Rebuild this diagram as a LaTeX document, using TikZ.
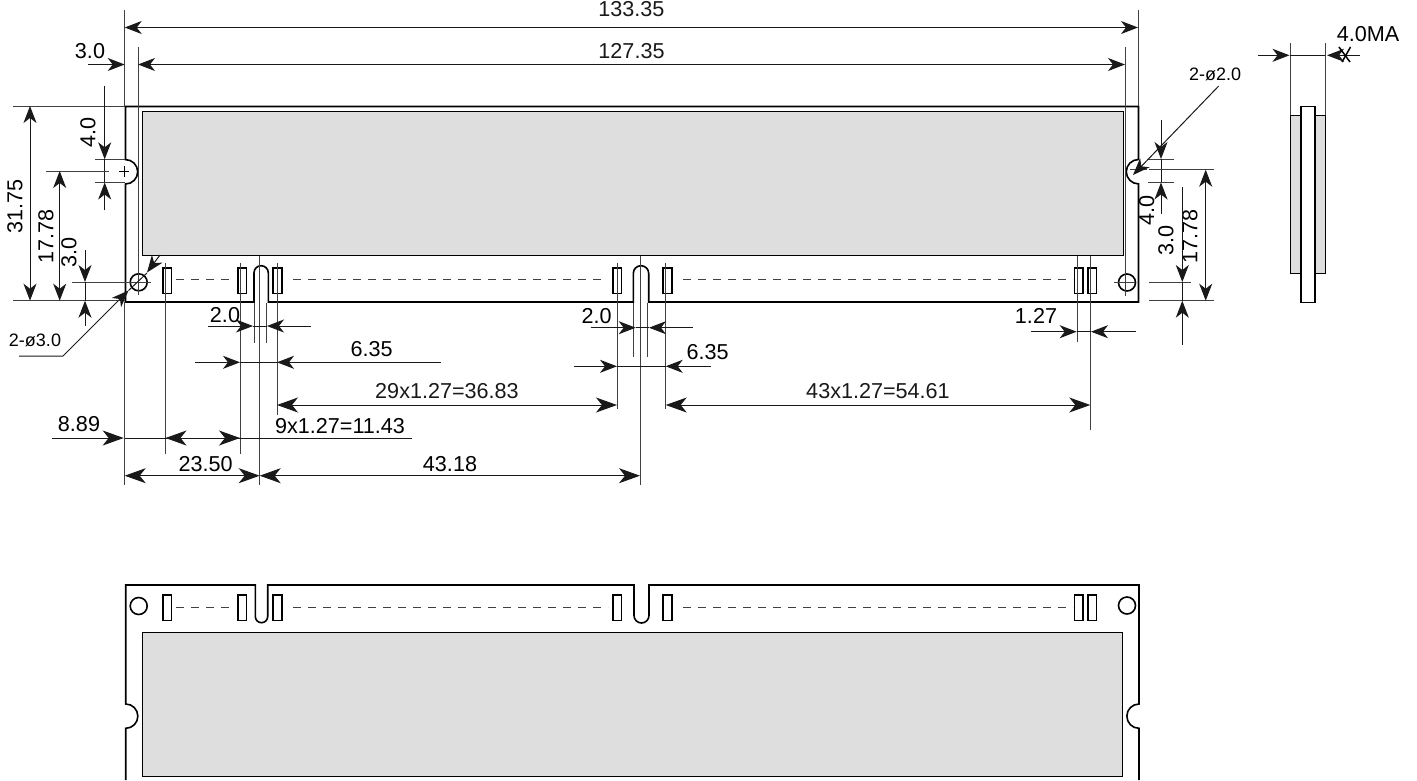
\documentclass[tikz,border=0pt]{standalone}
\usepackage{fontspec}
\setmainfont{Liberation Sans}
\usetikzlibrary{arrows.meta}
\tikzset{
  outline/.style={line width=1.6pt},
  padbox/.style={line width=1.6pt,fill=white},
  shade/.style={line width=1pt,fill=black!13},
  extline/.style={line width=1pt,black!75},
  dashrow/.style={dashed,dash pattern=on 8pt off 7pt,line width=1pt,black!75},
  dimline/.style={line width=1pt,black!90,>={Stealth[length=17pt,width=13pt,inset=5pt]}},
  bigdim/.style={line width=1pt,black!90,>={Stealth[length=21pt,width=15pt,inset=6pt]}},
  dimtext/.style={inner sep=0pt,font=\fontsize{21.6}{21.6}\selectfont},
  smalltext/.style={inner sep=0pt,font=\fontsize{18}{18}\selectfont},
}
\begin{document}
\begin{tikzpicture}[x=1pt,y=-1pt]
        \useasboundingbox(0,0)rectangle(1417,780);
        \draw[shade](142,111)rectangle(1123,255);
        \draw[outline](125.5,106.5)--(1138.5,106.5)--(1138.5,159.5)arc[start angle=90,end angle=270,radius=12.2pt]--(1138.5,302)--(648.7,302)--(648.7,273.4)arc[start angle=0,end angle=180,radius=7.7pt]--(633.3,302)--(268.3,302)--(268.3,272.85)arc[start angle=0,end angle=180,radius=7.15pt]--(254,302)--(125.5,302)--(125.5,184)arc[start angle=-90,end angle=90,radius=12.2pt]--cycle;
        \draw[outline](138.7,282.3)circle[radius=8.5pt];
        \draw[outline](1127,282.5)circle[radius=8.5pt];
        \foreach \padx in {162.7,237.7,273,612.7,663,1074.3,1087.7}{
          \draw[padbox](\padx,267.7)rectangle++(8.8,25.6);
          \draw[padbox](\padx,595)rectangle++(8.8,25.6);
        }
        \draw[dashrow](176,279.5)--(232,279.5);
        \draw[dashrow](293,279.5)--(606,279.5);
        \draw[dashrow](683,279.5)--(1073,279.5);
        \draw[shade](1290.3,115.3)rectangle(1325.7,273.3);
        \draw[outline,fill=white](1301,106.5)rectangle(1315,302.3);
        \draw[extline](124.7,10)--(124.7,106);
        \draw[extline](1138,10)--(1138,106);
        \draw[extline](138,47)--(138,295);
        \draw[extline](1125,47)--(1125,295.6);
        \draw[dimline,<->](124.7,27.5)--(1138,27.5)node[midway,above=10pt,dimtext](w1){133.35};
        \draw[dimline,<->](138,64.5)--(1125,64.5)node[midway,above=5pt,dimtext](w2){127.35};
        \draw[dimline,->](88,64.5)--(124.7,64.5);
        \node[dimtext](w3)at(90,51){3.0};
        \draw[extline](13,106)--(125,106);
        \draw[extline](13,300.7)--(125,300.7);
        \draw[dimline,<->](30,106)--(30,300.7);
        \node[dimtext,rotate=90](h1)at(15,206.7){31.75};
        \draw[extline](95,159.3)--(125,159.3);
        \draw[extline](95,182)--(125,182);
        \draw[dimline,->](104.7,86)--(104.7,159.3);
        \draw[dimline,->](104.7,210)--(104.7,182.5);
        \draw[dimline](104.7,159.3)--(104.7,182);
        \node[dimtext,rotate=90](h2)at(88,132){4.0};
        \draw[extline](46,171)--(109,171);
        \draw[line width=0.8pt](119,171)--(129,171);
        \draw[line width=0.8pt](124.7,166)--(124.7,176.7);
        \draw[dimline,<->](59.7,171)--(59.7,300.7);
        \node[dimtext,rotate=90](h3)at(46,236.7){17.78};
        \draw[extline](72,282)--(151,282);
        \draw[dimline,->](85,250)--(85,282);
        \draw[dimline,->](85,325.7)--(85,300.7);
        \draw[dimline](85,282)--(85,300.7);
        \node[dimtext,rotate=90](h4)at(69,252){3.0};
        \node[smalltext](n1)at(35,340.7){2-ø3.0};
        \draw[dimline,->](19,356)--(63,356)--(128.5,290.5);
        \draw[dimline](128.5,290.5)--(147,273);
        \draw[dimline,->](160,255)--(147,272.5);
        \draw[extline](124.7,302)--(124.7,485);
        \draw[extline](165,262.7)--(165,454.3);
        \draw[extline](240,262.7)--(240,454.3);
        \draw[extline](259.7,255.7)--(259.7,485);
        \draw[extline](254,303)--(254,342.7);
        \draw[extline](266,303)--(266,342.7);
        \draw[extline](277,262.7)--(277,415);
        \draw[dimline,->](208,326)--(253,326);
        \draw[dimline,->](311,326)--(267,326);
        \draw[dimline](253,326)--(267,326);
        \node[dimtext](d1)at(225,315){2.0};
        \draw[dimline,->](195,362.3)--(240,362.3);
        \draw[dimline,->](441,362.3)--(277,362.3);
        \draw[dimline](240,362.3)--(277,362.3);
        \node[dimtext](d2)at(371.7,349){6.35};
        \draw[bigdim,<->](277,405)--(617,405)node[midway,above=6pt,dimtext](d3){29x1.27=36.83};
        \draw[bigdim,->](52,438)--(123.7,438);
        \draw[dimline](124.7,438)--(411.7,438);
        \node[dimtext](d4)at(79,424){8.89};
        \node[dimtext](d5)at(340,426){9x1.27=11.43};
        \draw[bigdim,->](188,438)--(165.5,438);
        \draw[bigdim,->](218,438)--(240,438);
        \draw[bigdim,<->](124.7,475.7)--(259.7,475.7);
        \node[dimtext](d6)at(205.7,464){23.50};
        \draw[bigdim,<->](259.7,475.7)--(640,475.7);
        \node[dimtext](d7)at(450,464){43.18};
        \draw[extline](617,262.7)--(617,409.3);
        \draw[extline](665.7,262.7)--(665.7,409.3);
        \draw[extline](640,255.7)--(640,485);
        \draw[extline](633.7,303)--(633.7,356.7);
        \draw[extline](647.7,303)--(647.7,356.7);
        \draw[dimline,->](591,327.7)--(635.7,327.7);
        \draw[dimline,->](693,327.7)--(649,327.7);
        \draw[dimline](635.7,327.7)--(649,327.7);
        \node[dimtext](d8)at(596.7,316){2.0};
        \draw[dimline,->](573.7,366.3)--(617,366.3);
        \draw[dimline,->](711,366.3)--(665.7,366.3);
        \draw[dimline](617,366.3)--(665.7,366.3);
        \node[dimtext](d9)at(707.7,351.7){6.35};
        \draw[bigdim,<->](665.7,405)--(1090.3,405)node[midway,above=6pt,dimtext](d10){43x1.27=54.61};
        \draw[extline](1077,255.7)--(1077,342.3);
        \draw[extline](1090.3,255.7)--(1090.3,430);
        \draw[dimline,->](1031,331.7)--(1076.7,331.7);
        \draw[dimline,->](1136,331.7)--(1091,331.7);
        \draw[dimline](1076.7,331.7)--(1091,331.7);
        \node[dimtext](d11)at(1036,316){1.27};
        \draw[extline](1148,159)--(1173.7,159);
        \draw[extline](1148,182)--(1173.7,182);
        \draw[dimline,->](1161,120)--(1161,159);
        \draw[dimline,->](1161,214)--(1161,182.5);
        \draw[dimline](1161,159)--(1161,182);
        \node[dimtext,rotate=90](h5)at(1146.7,210.7){4.0};
        \draw[extline](1149,169.7)--(1213.7,169.7);
        \draw[extline](1130,169.7)--(1147,169.7);
        \draw[extline](1149,300.7)--(1213.7,300.7);
        \draw[extline](1149,282)--(1191,282);
        \draw[extline](1114,282.5)--(1135,282.5);
        \draw[dimline,<->](1205.7,169.7)--(1205.7,300.7);
        \node[dimtext,rotate=90](h6)at(1190,236.7){17.78};
        \draw[dimline,->](1182.3,187)--(1182.3,282);
        \draw[dimline,->](1182.3,345)--(1182.3,300.7);
        \draw[dimline](1182.3,282)--(1182.3,300.7);
        \node[dimtext,rotate=90](h7)at(1166,240){3.0};
        \node[smalltext](n2)at(1215,74){2-ø2.0};
        \draw[dimline,->](1218.7,86)--(1133,175);
        \draw[extline](1290.3,43)--(1290.3,115);
        \draw[extline](1325,43)--(1325,115);
        \draw[dimline,->](1258,55.3)--(1289.5,55.3);
        \draw[dimline,->](1360,55.3)--(1327,55.3);
        \draw[dimline](1290.3,55.3)--(1325,55.3);
        \draw[line width=1.5pt](1339,47)--(1350,62);
        \draw[line width=1.5pt](1350.5,47)--(1342,62);
        \node[dimtext](s1)at(1368,34){4.0MA};
        \draw[shade](142,632.3)rectangle(1122.7,776.3);
        \draw[outline](125.7,780)--(125.7,728.3)arc[start angle=-90,end angle=90,radius=12.15pt]--(125.7,585)--(255.3,585)--(255.3,616.5)arc[start angle=180,end angle=360,radius=6.2pt]--(267.7,585)--(634,585)--(634,615.5)arc[start angle=180,end angle=360,radius=7.5pt]--(649,585)--(1139,585)--(1139,704)arc[start angle=90,end angle=270,radius=12.15pt]--(1139,780);
        \draw[outline](138.7,606)circle[radius=8.5pt];
        \draw[outline](1127,605.5)circle[radius=8.5pt];
        \draw[dashrow](176,607.3)--(232,607.3);
        \draw[dashrow](293,607.3)--(608,607.3);
        \draw[dashrow](683,607.3)--(1073,607.3);
\end{tikzpicture}
\end{document}
